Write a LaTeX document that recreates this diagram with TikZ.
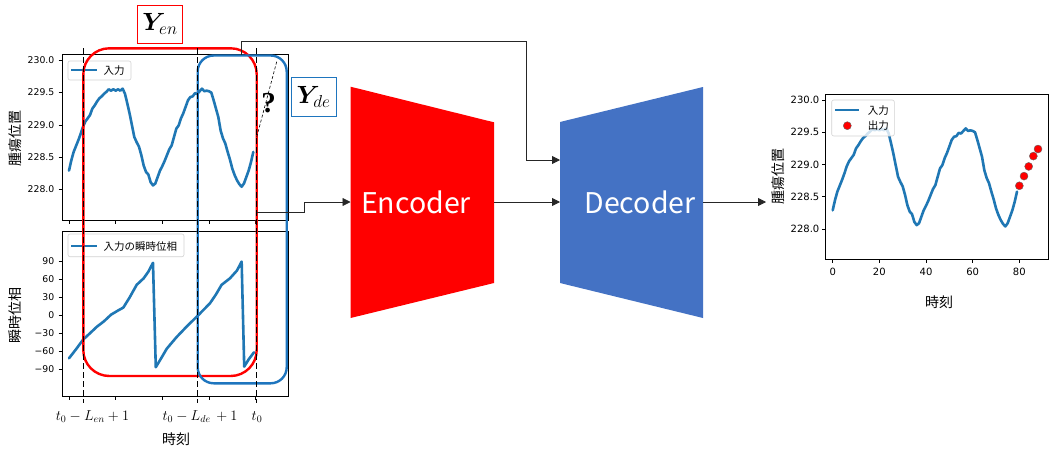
\documentclass[tikz,border=0pt]{standalone}
\usepackage{fontspec}
\usepackage{bm}
\usetikzlibrary{arrows.meta}
\newfontfamily\jp{Noto Sans CJK JP}
\newfontfamily\dv{DejaVu Sans}
\newfontfamily\qfont{Liberation Serif}
\definecolor{mplblue}{RGB}{31,119,180}
\definecolor{boxblue}{RGB}{30,117,190}
\definecolor{decblue}{RGB}{68,114,196}
\definecolor{legedge}{RGB}{210,210,210}
\def\tumorcurve{(0,0.29) -- (1,0.45) -- (2,0.58) -- (3,0.67) -- (4,0.76) -- (5,0.86) -- (6,0.97) -- (7,1.05) -- (8,1.10) -- (9,1.15) -- (10,1.25) -- (11,1.30) -- (12,1.36) -- (13,1.41) -- (14,1.44) -- (15,1.48) -- (16,1.51) -- (17,1.55) -- (18,1.53) -- (19,1.55) -- (20,1.53) -- (21,1.55) -- (22,1.53) -- (23,1.56) -- (24,1.48) -- (25,1.33) -- (26,1.17) -- (27,0.99) -- (28,0.81) -- (29,0.73) -- (30,0.66) -- (31,0.53) -- (32,0.37) -- (33,0.27) -- (34,0.23) -- (35,0.11) -- (36,0.06) -- (37,0.09) -- (38,0.19) -- (39,0.29) -- (40,0.36) -- (41,0.44) -- (42,0.53) -- (43,0.62) -- (44,0.68) -- (45,0.81) -- (46,0.94) -- (47,0.99) -- (48,1.10) -- (49,1.18) -- (50,1.28) -- (51,1.38) -- (52,1.43) -- (53,1.44) -- (54,1.49) -- (55,1.48) -- (56,1.52) -- (57,1.56) -- (58,1.52) -- (59,1.53) -- (60,1.52) -- (61,1.50) -- (62,1.38) -- (63,1.25) -- (64,1.12) -- (65,0.91) -- (66,0.79) -- (67,0.71) -- (68,0.58) -- (69,0.46) -- (70,0.32) -- (71,0.22) -- (72,0.14) -- (73,0.08) -- (74,0.04) -- (75,0.09) -- (76,0.19) -- (77,0.29) -- (78,0.42) -- (79,0.58)}
\tikzset{
  axframe/.style={draw=black, line width=0.8pt},
  tickline/.style={draw=black, line width=0.7pt},
  ticklab/.style={font=\dv\fontsize{9.3}{10}\selectfont, inner sep=0pt},
  ticklabR/.style={font=\dv\fontsize{10}{11}\selectfont, inner sep=0pt},
  axlab/.style={font=\jp\fontsize{14}{15}\selectfont, inner sep=0pt},
  legtext/.style={font=\jp\fontsize{10.5}{12}\selectfont, inner sep=0pt, anchor=west},
  legbox/.style={draw=legedge, fill=white, fill opacity=0.8, rounded corners=2pt, line width=0.6pt},
  dataline/.style={draw=mplblue, line width=2.6pt, line join=round, line cap=round},
  vdash/.style={draw=black, line width=0.9pt, dash pattern=on 6pt off 3pt},
  conn/.style={draw=black!85, line width=0.8pt},
  arr/.style={conn, -{Triangle[length=8pt,width=8pt]}},
  mathlab/.style={font=\fontsize{14.5}{16}\selectfont, inner sep=0pt},
  netlab/.style={font=\jp\fontsize{28.5}{30}\selectfont, text=white, inner sep=0pt},
}
\begin{document}
\begin{tikzpicture}[x=1pt,y=-1pt]
\useasboundingbox (0,0) rectangle (1049,450);
\fill[white] (0,0) rectangle (1049,450);

% ---------- left top axes ----------
\draw[axframe] (62,54.5) rectangle (288.7,220);
\foreach \v/\y in {230.0/60.3,229.5/92.6,229.0/124.9,228.5/157.1,228.0/189.4}{
  \draw[tickline] (58.5,\y) -- (62,\y);
  \node[ticklab, anchor=east] at (54.5,\y) {\v};
}
\foreach \x in {69,115.7,162.3,209,255.7}{
  \draw[tickline] (\x,220) -- (\x,223.5);
}
\node[axlab, rotate=90] (ylabA) at (15,138) {腫瘍位置};
\begin{scope}[shift={(69,189.3)}, x=2.333pt, y=64.5pt]
  \draw[dataline] \tumorcurve;
\end{scope}
\draw[legbox] (68,61) rectangle (131,80);
\draw[dataline, line cap=butt] (71,70) -- (97,70);
\node[legtext] (legA) at (103.5,70.5) {入力};

% ---------- left bottom axes ----------
\draw[axframe] (62,231.7) rectangle (288.7,396.7);
\foreach \v/\y in {90/261.6,60/279.5,30/297.4,0/315.3,−30/333.2,−60/351.1,−90/369.0}{
  \draw[tickline] (58.5,\y) -- (62,\y);
  \node[ticklab, anchor=east] at (54.5,\y) {\v};
}
\foreach \x in {69,115.7,162.3,209,255.7}{
  \draw[tickline] (\x,396.7) -- (\x,400.2);
}
\node[axlab, rotate=90] (ylabB) at (15,315) {瞬時位相};
\begin{scope}[shift={(69,315.3)}, x=2.333pt, y=0.5967pt]
  \draw[dataline] (0,-72) -- (3,-57) -- (6,-41) -- (9,-30) -- (12,-19) -- (15,-10) -- (18,1) -- (21,8) -- (23.3,13) -- (26,30) -- (29,51) -- (32,62) -- (34,73) -- (36,88) -- (37.2,-87) -- (39.5,-72) -- (41.9,-56) -- (46,-37) -- (50.4,-19) -- (55.1,-1) -- (60.4,20) -- (63,35) -- (65.4,51) -- (69,62) -- (72,75) -- (74,90) -- (75.1,-86) -- (77,-74) -- (79.3,-62);
\end{scope}
\draw[legbox] (68,234) rectangle (184,256.7);
\draw[dataline, line cap=butt] (71,246) -- (97,246);
\node[legtext] (legB) at (103.5,246.5) {入力の瞬時位相};

% x tick labels
\node[mathlab] (tEn) at (92.5,416.7) {$t_0 - L_{en} + 1$};
\node[mathlab] (tDe) at (200,416.7) {$t_0 - L_{de} \,+ 1$};
\node[mathlab] (tZero) at (257,416.7) {$t_0$};
\node[axlab] (xlabA) at (176,439) {時刻};

% ---------- windows ----------
\draw[red, line width=2.4pt, rounded corners=26pt] (83.3,48.3) rectangle (256.7,376);
\draw[boxblue, line width=2.4pt, rounded corners=16pt] (197.7,55.5) rectangle (286.7,383.3);
\foreach \x in {83.3,197.7,256.7}{
  \draw[vdash] (\x,48) -- (\x,402.7);
}
\coordinate (qA) at (256.7,137);
\coordinate (qB) at (276.7,61.7);
\draw[black, line width=0.6pt, dash pattern=on 3pt off 2pt] (qA) -- (qB);
\node[font=\qfont\bfseries\fontsize{29}{30}\selectfont, inner sep=0pt] (qmark) at (268.5,103) {?};

\node[draw=red, line width=0.9pt, minimum width=45.7pt, minimum height=38.3pt, inner sep=0pt, font=\fontsize{23}{25}\selectfont] (Yen) at (160,24.2) {$\bm{Y}_{en}$};
\node[draw=boxblue, line width=0.9pt, minimum width=45pt, minimum height=38.7pt, inner sep=0pt, font=\fontsize{23}{25}\selectfont] (Yde) at (313.5,96.7) {$\bm{Y}_{de}$};

% ---------- encoder / decoder ----------
\fill[red] (350.5,86.7) -- (494,122.3) -- (494,283) -- (350.5,318) -- cycle;
\fill[decblue] (560,122) -- (703,87) -- (703,318) -- (560,283) -- cycle;
\node[netlab] (enc) at (416,202) {Encoder};
\node[netlab] (dec) at (640,202) {Decoder};
\coordinate (encIn) at (350.5,202);
\coordinate (encOut) at (494,202);
\coordinate (decIn) at (560,202);
\coordinate (decInTop) at (560,160);
\coordinate (decOut) at (703,202);
\coordinate (plotIn) at (766,202);
\coordinate (tapTop) at (241.5,55);
\coordinate (tapBot) at (256.7,212.5);

\draw[arr] (tapTop) -- (241.5,41.5) -- (526,41.5) -- (526,160) -- (decInTop);
\draw[arr] (tapBot) -- (304,212.5) -- (304,202) -- (encIn);
\draw[arr] (encOut) -- (decIn);
\draw[arr] (decOut) -- (plotIn);

% ---------- right axes ----------
\draw[axframe] (825.7,94.3) rectangle (1048.6,259.3);
\foreach \v/\y in {230.0/100,229.5/132.25,229.0/164.5,228.5/196.75,228.0/229}{
  \draw[tickline] (822.2,\y) -- (825.7,\y);
  \node[ticklabR, anchor=east] at (819.5,\y) {\v};
}
\foreach \v/\x in {0/832.7,20/879.3,40/926,60/972.7,80/1019.3}{
  \draw[tickline] (\x,259.3) -- (\x,262.8);
  \node[ticklabR] at (\x,271.7) {\v};
}
\node[axlab, rotate=90] (ylabC) at (778,176.7) {腫瘍位置};
\node[axlab] (xlabC) at (939,301.7) {時刻};
\begin{scope}[shift={(832.7,229)}, x=2.333pt, y=64.5pt]
  \draw[dataline] \tumorcurve;
  \foreach \t/\v in {80/0.67,82/0.82,84/0.97,86/1.13,88/1.24}{
    \fill[red, draw=black!60, line width=0.4pt] (\t,\v) circle[radius=4pt];
  }
\end{scope}
\draw[legbox] (831.7,100) rectangle (894.3,136);
\draw[dataline, line cap=butt] (835,110) -- (859.3,110);
\node[legtext] (legC1) at (867.7,110.5) {入力};
\fill[red, draw=black!60, line width=0.4pt] (847.3,125.7) circle[radius=4pt];
\node[legtext] (legC2) at (867.7,126) {出力};
\end{tikzpicture}
\end{document}
